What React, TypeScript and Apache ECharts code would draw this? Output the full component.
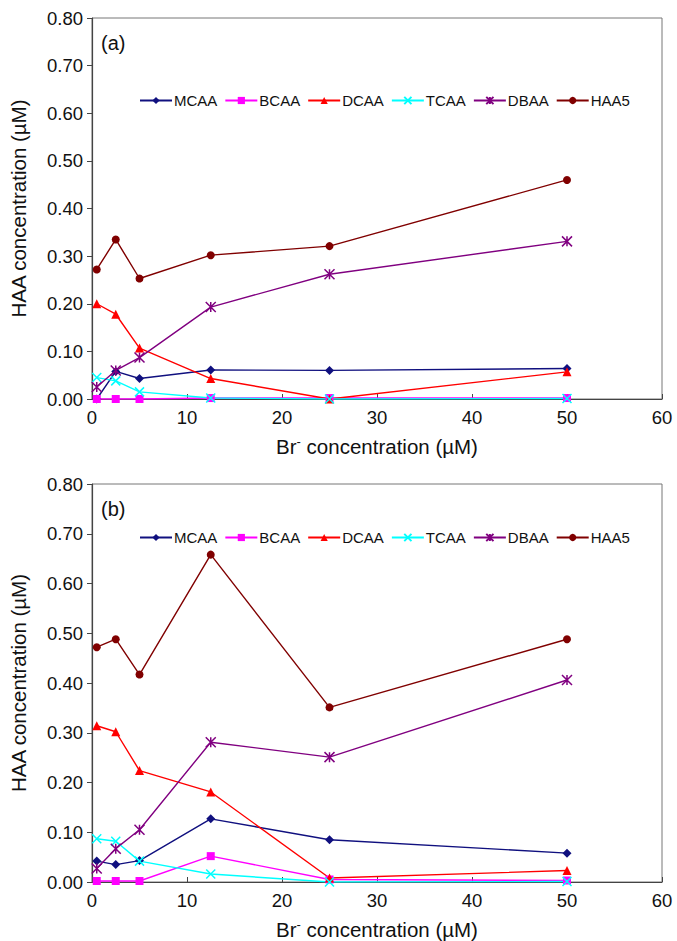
import React, { useEffect, useRef } from "react";
import * as echarts from "echarts";

// Bromide dose (µM)
const bromide = [0.5, 2.5, 5, 12.5, 25, 50];

// Panel (a) HAA species (µM)
const mcaaA = [0.0, 0.058, 0.043, 0.061, 0.060, 0.064];
const bcaaA = [0.0, 0.0, 0.0, 0.002, 0.002, 0.002];
const dcaaA = [0.200, 0.178, 0.107, 0.043, 0.0, 0.057];
const tcaaA = [0.045, 0.038, 0.015, 0.002, 0.0, 0.001];
const dbaaA = [0.025, 0.060, 0.087, 0.193, 0.262, 0.331];
const haa5A = [0.272, 0.335, 0.253, 0.302, 0.321, 0.460];

// Panel (b) HAA species (µM)
const mcaaB = [0.042, 0.035, 0.043, 0.127, 0.085, 0.058];
const bcaaB = [0.002, 0.002, 0.002, 0.052, 0.005, 0.003];
const dcaaB = [0.314, 0.302, 0.224, 0.181, 0.008, 0.023];
const tcaaB = [0.087, 0.082, 0.042, 0.016, 0.0, 0.001];
const dbaaB = [0.027, 0.067, 0.105, 0.281, 0.251, 0.406];
const haa5B = [0.472, 0.488, 0.417, 0.658, 0.351, 0.488];

const speciesNames = ["MCAA", "BCAA", "DCAA", "TCAA", "DBAA", "HAA5"];
const yTicks = [0, 0.1, 0.2, 0.3, 0.4, 0.5, 0.6, 0.7, 0.8];
const xTicks = [0, 10, 20, 30, 40, 50, 60];

const FONT = "Liberation Sans, Arial, sans-serif";

const styles: Record<string, { color: string; symbol: string; size: number; stroke?: boolean }> = {
  MCAA: { color: "#10107f", symbol: "diamond", size: 9 },
  BCAA: { color: "#ff00ff", symbol: "rect", size: 8 },
  DCAA: { color: "#ff0000", symbol: "triangle", size: 9 },
  TCAA: { color: "#00ffff", symbol: "path://M0,0L10,10M10,0L0,10", size: 9, stroke: true },
  DBAA: { color: "#800080", symbol: "path://M0,0L10,10M10,0L0,10M5,0L5,10", size: 10, stroke: true },
  HAA5: { color: "#800000", symbol: "circle", size: 8 },
};

function makeSeries(name: string, values: number[], idx: number) {
  const s = styles[name];
  return {
    name,
    type: "line",
    xAxisIndex: idx,
    yAxisIndex: idx,
    data: bromide.map((x, i) => [x, values[i]]),
    symbol: s.symbol,
    symbolSize: s.size,
    lineStyle: { color: s.color, width: 1.4 },
    itemStyle: s.stroke
      ? { color: s.color, borderColor: s.color, borderWidth: 1.5 }
      : { color: s.color, borderWidth: 0 },
    z: 3,
  };
}

export default function App() {
  const ref = useRef<HTMLDivElement>(null);

  useEffect(() => {
    if (!ref.current) return;
    const chart = echarts.init(ref.current, null, { renderer: "svg" });

    const grids = [
      { left: 91, top: 18, width: 571, height: 381 },
      { left: 91, top: 484, width: 571, height: 399 },
    ];

    const xAxisCfg = (gridIndex: number) => ({
      type: "value",
      gridIndex,
      min: xTicks[0],
      max: xTicks[xTicks.length - 1],
      interval: 10,
      name: "Br{sup|-} concentration (µM)",
      nameLocation: "middle",
      nameGap: 36,
      nameTextStyle: {
        fontFamily: FONT,
        fontSize: 20.5,
        color: "#111",
        rich: { sup: { fontFamily: FONT, fontSize: 13, color: "#111", verticalAlign: "top", padding: [0, 0, 10, 0] } },
      },
      axisLine: { show: true, lineStyle: { color: "#444", width: 1.2 } },
      axisTick: { show: true, inside: true, length: 5, lineStyle: { color: "#444" } },
      axisLabel: { fontFamily: FONT, fontSize: 18.5, color: "#111", margin: 9 },
      splitLine: { show: false },
    });

    const yAxisCfg = (gridIndex: number) => ({
      type: "value",
      gridIndex,
      min: yTicks[0],
      max: yTicks[yTicks.length - 1],
      interval: 0.1,
      name: "HAA concentration (µM)",
      nameLocation: "middle",
      nameGap: 63,
      nameTextStyle: { fontFamily: FONT, fontSize: 20.5, color: "#111" },
      axisLine: { show: true, lineStyle: { color: "#444", width: 1.2 } },
      axisTick: { show: true, inside: false, length: 5, lineStyle: { color: "#444" } },
      axisLabel: {
        fontFamily: FONT,
        fontSize: 18.5,
        color: "#111",
        margin: 9,
        formatter: (v: number) => v.toFixed(2),
      },
      splitLine: { show: false },
    });

    const legendCfg = (top: number) => ({
      top,
      left: 134,
      itemWidth: 32,
      itemHeight: 9,
      itemGap: 7,
      data: speciesNames,
      textStyle: { fontFamily: FONT, fontSize: 15, color: "#111", padding: [0, 0, 0, -3] },
    });

    const option = {
      animation: false,
      backgroundColor: "#ffffff",
      grid: grids.map((g) => ({ ...g, show: true, borderColor: "#777", borderWidth: 1, backgroundColor: "transparent" })),
      xAxis: [xAxisCfg(0), xAxisCfg(1)],
      yAxis: [yAxisCfg(0), yAxisCfg(1)],
      legend: [legendCfg(88), legendCfg(525)],
      graphic: [
        { type: "text", left: 101, top: 33, style: { text: "(a)", fontFamily: FONT, fontSize: 20, fill: "#111" } },
        { type: "text", left: 101, top: 499, style: { text: "(b)", fontFamily: FONT, fontSize: 20, fill: "#111" } },
      ],
      series: [
        makeSeries("MCAA", mcaaA, 0),
        makeSeries("BCAA", bcaaA, 0),
        makeSeries("DCAA", dcaaA, 0),
        makeSeries("TCAA", tcaaA, 0),
        makeSeries("DBAA", dbaaA, 0),
        makeSeries("HAA5", haa5A, 0),
        makeSeries("MCAA", mcaaB, 1),
        makeSeries("BCAA", bcaaB, 1),
        makeSeries("DCAA", dcaaB, 1),
        makeSeries("TCAA", tcaaB, 1),
        makeSeries("DBAA", dbaaB, 1),
        makeSeries("HAA5", haa5B, 1),
      ],
    };

    chart.setOption(option as any);
    return () => chart.dispose();
  }, []);

  return (
    <div
      ref={ref}
      style={{ position: "absolute", left: 0, top: 0, width: 677, height: 941, background: "#fff" }}
    />
  );
}
